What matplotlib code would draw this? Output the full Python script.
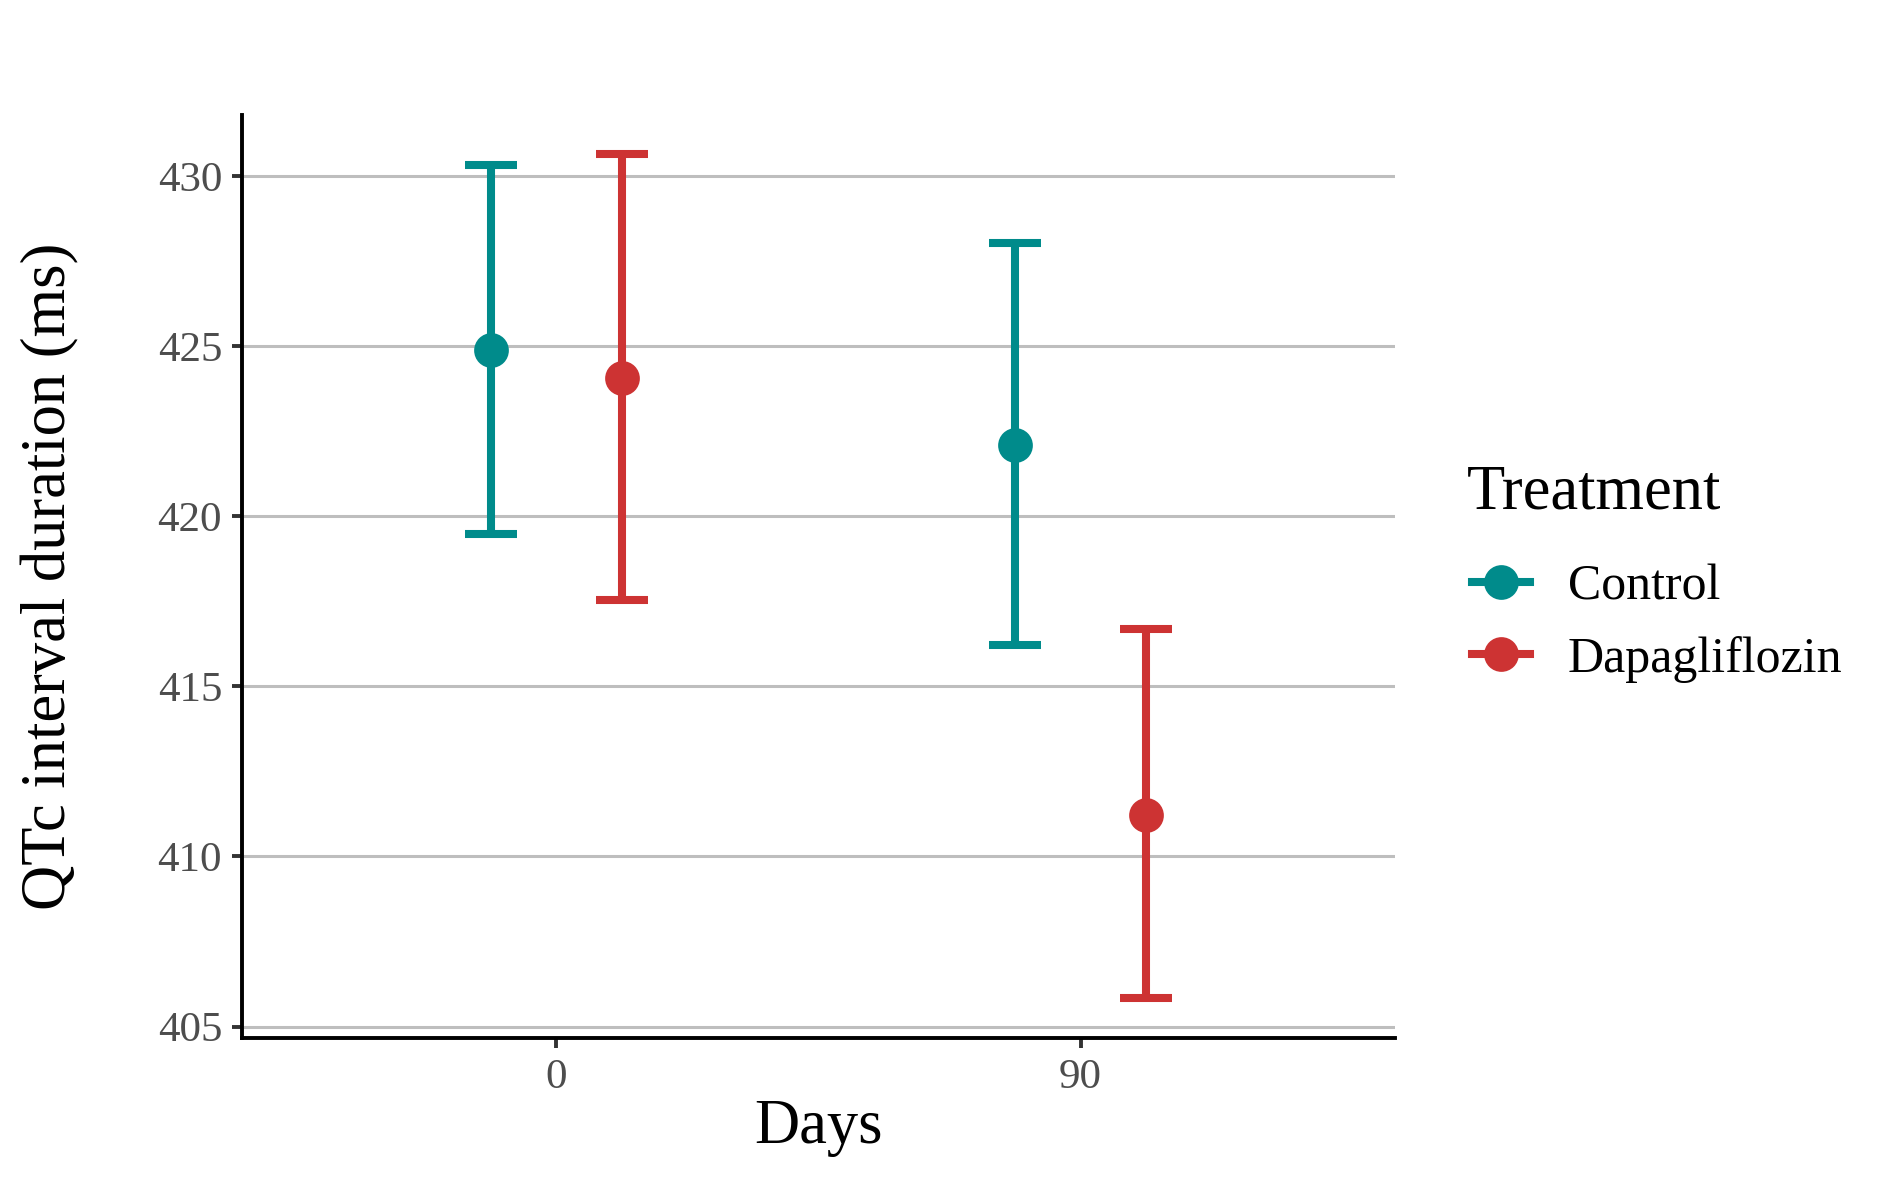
import numpy as np
import matplotlib.pyplot as plt
from matplotlib.lines import Line2D

plt.rcParams['font.family'] = ['Liberation Serif', 'DejaVu Serif']

# Data
days = [0, 90]
groups = ['Control', 'Dapagliflozin']
colors = ['#008B8B', '#CD3333']
means = {'Control': [424.87, 422.08], 'Dapagliflozin': [424.06, 411.22]}
upper = {'Control': [430.32, 428.02], 'Dapagliflozin': [430.64, 416.67]}
lower = {'Control': [419.46, 416.21], 'Dapagliflozin': [417.52, 405.85]}
dodge = [-11.2, 11.2]

fig = plt.figure(figsize=(9.445, 5.905), dpi=200)
ax = fig.add_axes([0.128, 0.1207, 0.6105, 0.7823])

for g, c, d in zip(groups, colors, dodge):
    x = np.array(days) + d
    m = np.array(means[g])
    yerr = [m - np.array(lower[g]), np.array(upper[g]) - m]
    ax.errorbar(x, m, yerr=yerr, fmt='o', color=c, ecolor=c, elinewidth=2.9,
                capsize=9.4, capthick=2.9, markersize=11.5, zorder=3)

ax.set_xlim(-54, 144)
ax.set_ylim(404.65, 431.8)
ax.set_xticks(days)
ax.set_yticks([405, 410, 415, 420, 425, 430])
ax.yaxis.grid(True, color='#BEBEBE', linewidth=1.1)
ax.set_axisbelow(True)
for s in ['top', 'right']:
    ax.spines[s].set_visible(False)
for s in ['left', 'bottom']:
    ax.spines[s].set_linewidth(1.4)
    ax.spines[s].set_color('black')
ax.tick_params(axis='both', length=3.6, width=1.4, color='#333333',
               labelcolor='#4D4D4D', labelsize=15.5, pad=3.5)

ax.set_xlabel('Days', fontsize=22.5, labelpad=1)
ax.set_ylabel('QTc interval duration (ms)', fontsize=22.5, labelpad=28)

handles = [Line2D([], [], color=c, marker='o', markersize=11.5, linewidth=2.9)
           for c in colors]
fig.text(0.7766, 0.582, 'Treatment', fontsize=22.5, ha='left', va='center')
fig.legend(handles, groups, loc='center left', bbox_to_anchor=(0.779, 0.4719),
           bbox_transform=fig.transFigure, frameon=False, fontsize=18,
           handlelength=1.16, handletextpad=0.76, labelspacing=0.5,
           borderpad=0, borderaxespad=0)

fig.savefig('out.png', dpi=200)
